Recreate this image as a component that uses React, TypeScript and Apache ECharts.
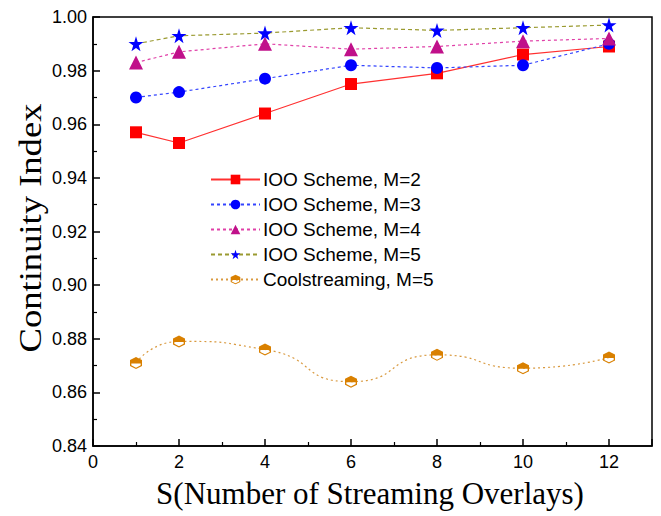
import React, { useEffect, useRef } from "react";
import * as echarts from "echarts";

const xValues = [1, 2, 4, 6, 8, 10, 12];
const iooM2 = [0.957, 0.953, 0.964, 0.975, 0.979, 0.986, 0.989];
const iooM3 = [0.970, 0.972, 0.977, 0.982, 0.981, 0.982, 0.990];
const iooM4 = [0.983, 0.987, 0.990, 0.988, 0.989, 0.991, 0.992];
const iooM5 = [0.990, 0.993, 0.994, 0.996, 0.995, 0.996, 0.997];
const coolM5 = [0.871, 0.879, 0.876, 0.864, 0.874, 0.869, 0.873];
const seriesNames = [
  "IOO Scheme, M=2",
  "IOO Scheme, M=3",
  "IOO Scheme, M=4",
  "IOO Scheme, M=5",
  "Coolstreaming, M=5",
];
const xTitle = "S(Number of Streaming Overlays)";
const yTitle = "Continuity Index";

const halfSymbol =
  "path://M10,0 L19,5 L19,15 L10,20 L1,15 L1,5 Z M3,11 L3,14 L10,18 L17,14 L17,11 Z";
const starSymbol =
  "path://M50,0 L61,35 L98,35 L68,57 L79,92 L50,71 L21,92 L32,57 L2,35 L39,35 Z";

const pair = (ys: number[]) => xValues.map((x, i) => [x, ys[i]]);

export default function App() {
  const ref = useRef<HTMLDivElement>(null);
  useEffect(() => {
    const chart = echarts.init(ref.current!, null, { renderer: "svg" });
    const mk = (
      name: string,
      ys: number[],
      symbol: string,
      size: number,
      markerColor: string,
      lineColor: string,
      type: any,
      smooth: any = false
    ) => ({
      name,
      type: "line",
      data: pair(ys),
      symbol,
      symbolSize: size,
      smooth,
      showAllSymbol: true,
      itemStyle: { color: markerColor, borderWidth: 0 },
      lineStyle: { color: lineColor, width: 1.2, type },
      z: 3,
    });
    chart.setOption({
      animation: false,
      backgroundColor: "#ffffff",
      grid: {
        left: 85,
        right: 9,
        top: 2,
        bottom: 70,
        show: true,
        borderColor: "#000",
        borderWidth: 1.5,
        backgroundColor: "transparent",
      },
      graphic: [
        {
          type: "text",
          x: 22,
          y: 220,
          rotation: Math.PI / 2,
          scaleX: 1.18,
          style: {
            text: yTitle,
            font: "31px 'Liberation Serif', 'Times New Roman', serif",
            fill: "#000",
            align: "center",
            verticalAlign: "middle",
          },
        },
        {
          type: "text",
          x: 362,
          y: 485,
          style: {
            text: xTitle,
            font: "31px 'Liberation Serif', 'Times New Roman', serif",
            fill: "#000",
            align: "center",
            verticalAlign: "middle",
          },
        },
      ],
      legend: {
        orient: "vertical",
        left: 197,
        top: 157,
        itemWidth: 49,
        itemHeight: 12,
        itemGap: 6,
        data: seriesNames,
        textStyle: { fontFamily: "Liberation Sans, Arial", fontSize: 19, color: "#000", padding: [0, 0, 0, -2] },
      },
      xAxis: {
        type: "value",
        min: 0,
        max: 13,
        interval: 2,
        axisLine: { lineStyle: { color: "#000", width: 1.5 } },
        axisTick: { inside: true, length: 7, lineStyle: { color: "#000", width: 1.5 } },
        minorTick: { show: true, splitNumber: 2, length: 4, lineStyle: { color: "#000", width: 1.2 } },
        splitLine: { show: false },
        axisLabel: {
          fontFamily: "Liberation Sans, Arial",
          fontSize: 18,
          color: "#000",
          margin: 7,
          formatter: (v: number) => (v > 12 ? "" : String(v)),
        },
      },
      yAxis: {
        type: "value",
        min: 0.84,
        max: 1.0,
        interval: 0.02,
        axisLine: { lineStyle: { color: "#000", width: 1.5 } },
        axisTick: { inside: true, length: 7, lineStyle: { color: "#000", width: 1.5 } },
        minorTick: { show: true, splitNumber: 2, length: 4, lineStyle: { color: "#000", width: 1.2 } },
        splitLine: { show: false },
        axisLabel: {
          fontFamily: "Liberation Sans, Arial",
          fontSize: 18,
          color: "#000",
          margin: 6,
          formatter: (v: number) => v.toFixed(2),
        },
      },
      series: [
        mk(seriesNames[0], iooM2, "rect", 12, "#ff0000", "#ff3030", "solid"),
        mk(seriesNames[1], iooM3, "circle", 12, "#0000ff", "#3344ff", [3, 3]),
        mk(seriesNames[2], iooM4, "triangle", 14, "#c0108a", "#e040a8", [3, 3]),
        mk(seriesNames[3], iooM5, starSymbol, 15, "#0000ff", "#9a9a30", [4, 3]),
        mk(seriesNames[4], coolM5, halfSymbol, 12, "#d98000", "#d99a40", [2, 3], 0.6),
      ],
    });
    return () => chart.dispose();
  }, []);
  return <div ref={ref} style={{ width: 653, height: 508 }} />;
}
